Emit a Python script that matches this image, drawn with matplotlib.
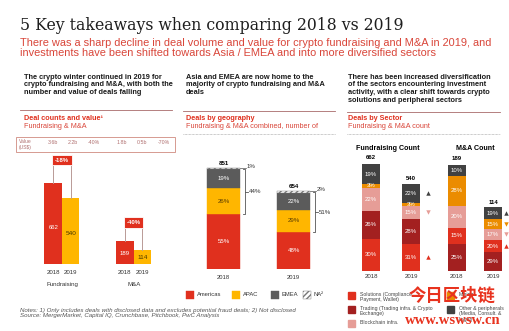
import matplotlib.pyplot as plt
from matplotlib.patches import Rectangle

plt.rcParams['font.family'] = ['Liberation Sans', 'DejaVu Sans']

# ---------------------------------------------------------------------------
# Data
# ---------------------------------------------------------------------------
years = ["2018", "2019"]

fundraising_counts = [662, 540]
ma_counts = [189, 114]
count_changes = ["-18%", "-40%"]
value_labels = ["3.6b", "2.2b", "-40%", "1.8b", "0.5b", "-70%"]

geo_totals = [851, 654]
geo_regions = ["Americas", "APAC", "EMEA", "NA²"]
geo_americas = [55, 48]
geo_apac = [26, 29]
geo_emea = [19, 22]
geo_na = [1, 2]
geo_na_labels = ["1%", "2%"]
geo_bracket_labels = ["44%", "51%"]

sectors = ["Solutions", "Trading", "Blockchain infra.", "Mining", "Other"]
sector_legend = ["Solutions (Compliance,\nPayment, Wallet)",
                 "Trading (Trading infra. & Crypto\nExchange)",
                 "Blockchain infra.",
                 "Mining",
                 "Other & peripherals\n(Media, Consult. &\nLegal)"]
fr_sector_2018 = [30, 26, 22, 3, 19]
fr_sector_2019 = [31, 28, 15, 3, 22]
ma_sector_2018 = [15, 25, 20, 28, 10]
ma_sector_2019 = [20, 29, 17, 15, 19]
# stacking order bottom -> top (index into sectors)
fr_order = [0, 1, 2, 3, 4]
ma_order = [1, 0, 2, 3, 4]
# trend arrows shown next to the 2019 bars
fr_trend_2019 = {4: "^", 2: "v", 0: "^"}
ma_trend_2019 = {4: "^", 3: "v", 2: "v", 0: "^"}

RED = "#e0301e"
DARKRED = "#a32020"
PINK = "#e69d97"
ORANGE = "#eb8c00"
YELLOW = "#ffb600"
GREY = "#5b5b5b"
DARKGREY = "#414141"
TXTRED = "#d9463a"
sector_colors = [RED, DARKRED, PINK, ORANGE, DARKGREY]
geo_colors = [RED, YELLOW, GREY, "white"]

W, H = 510, 331
fig = plt.figure(figsize=(W / 100, H / 100), dpi=100)

lay = fig.add_axes([0, 0, 1, 1])
lay.set_xlim(0, W)
lay.set_ylim(H, 0)
lay.axis("off")


def px_axes(x0, y0, x1, y1):
    a = fig.add_axes([x0 / W, 1 - y1 / H, (x1 - x0) / W, (y1 - y0) / H])
    a.patch.set_alpha(0)
    a.axis("off")
    return a


# ---------------------------------------------------------------------------
# Title block and column headers
# ---------------------------------------------------------------------------
lay.text(20, 25, "5 Key takeaways when comparing 2018 vs 2019", family="DejaVu Serif",
         fontsize=11.3, color="#1e1e1e", va="center")
lay.text(20, 48, "There was a sharp decline in deal volume and value for crypto fundraising and M&A in 2019, and\n"
         "investments have been shifted towards Asia / EMEA and into more diversified sectors",
         fontsize=7.9, color=TXTRED, va="center", linespacing=1.1)

heads = [(24, "The crypto winter continued in 2019 for\ncrypto fundraising and M&A, with both the\nnumber and value of deals falling"),
         (186, "Asia and EMEA are now home to the\nmajority of crypto fundraising and M&A\ndeals"),
         (348, "There has been increased diversification\nof the sectors encountering investment\nactivity, with a clear shift towards crypto\nsolutions and peripheral sectors")]
for x, t in heads:
    lay.text(x, 74, t, fontsize=5.3, weight="bold", color="#1a1a1a", va="top", linespacing=1.1)

for x0, x1, y in [(20, 172, 110), (183, 335, 111), (347, 500, 112)]:
    lay.plot([x0, x1], [y, y], color="#a86a6a", lw=0.6)
for x0, x1 in [(183, 335), (347, 500)]:
    lay.plot([x0, x1], [134, 134], color="#999999", lw=0.5, ls=(0, (1, 1)))

subs = [(24, "Deal counts and value¹", "Fundraising & M&A"),
        (186, "Deals by geography", "Fundraising & M&A combined, number of"),
        (348, "Deals by Sector", "Fundraising & M&A count")]
for x, t1, t2 in subs:
    lay.text(x, 119, t1, fontsize=5.2, weight="bold", color=RED, va="center")
    lay.text(x, 127, t2, fontsize=5.2, color=TXTRED, va="center")

# value box
lay.add_patch(Rectangle((16, 137), 159, 15, fill=False, ec="#d08a80", lw=0.6))
lay.text(19, 144.5, "Value\n(US$)", fontsize=3.6, color="#b07070", va="center", linespacing=1.1)
for x, t in zip([48, 68, 88, 117, 137, 158], value_labels):
    lay.text(x, 142, t, fontsize=3.8, color="#b07070", va="center")

# ---------------------------------------------------------------------------
# Chart 1: deal counts
# ---------------------------------------------------------------------------
ax1 = px_axes(20, 142, 175, 264)
ax1.set_ylim(0, 1000)
ax1.set_xlim(-1.9, 6.96)
groups = [([0, 1], fundraising_counts, "Fundraising", max(fundraising_counts) + 190),
          ([4.1, 5.1], ma_counts, "M&A", max(ma_counts) + 150)]
for (pos, vals, name, lvl), chg in zip(groups, count_changes):
    ax1.bar(pos, vals, width=1, color=[RED, YELLOW])
    ax1.text(pos[0], vals[0] * 0.45, str(vals[0]), color="white", fontsize=4.3, ha="center", va="center")
    ax1.text(pos[1], vals[1] * 0.47, str(vals[1]), color="#4a3a00", fontsize=4.6, ha="center", va="center")
    ax1.plot([pos[0], pos[0], pos[1], pos[1]], [vals[0], lvl, lvl, vals[1]], color="#b99a96", lw=0.7)
    ax1.text(sum(pos) / 2, lvl, chg, color="white", fontsize=4.3, weight="bold", ha="center", va="center",
             bbox=dict(boxstyle="square,pad=0.45", fc=RED, ec="white", lw=0.6))
    for p, y in zip(pos, years):
        ax1.text(p, -66, y, fontsize=4.4, color="#333333", ha="center", va="center")
    ax1.text(sum(pos) / 2, -172, name, fontsize=4.4, color="#333333", ha="center", va="center")

# ---------------------------------------------------------------------------
# Chart 2: deals by geography
# ---------------------------------------------------------------------------
ax2 = px_axes(180, 151.5, 340, 269)
ax2.set_ylim(0, 1000)
ax2.set_xlim(-0.62, 1.66)
bw = 0.47
bottoms = [0, 0]
shares = [geo_americas, geo_apac, geo_emea, geo_na]
txt_cols = ["white", "#5a3d00", "white", None]
for share, col, tc in zip(shares, geo_colors, txt_cols):
    h = [t * s / 100 for t, s in zip(geo_totals, share)]
    ax2.bar([0, 1], h, bottom=bottoms, width=bw, color=col,
            hatch="//////" if col == "white" else None,
            edgecolor="#777777" if col == "white" else col, lw=0.3)
    if tc:
        for i in range(2):
            ax2.text(i, bottoms[i] + h[i] / 2, f"{share[i]}%", color=tc, fontsize=4.4,
                     ha="center", va="center")
    bottoms = [b + v for b, v in zip(bottoms, h)]
for i in range(2):
    top = geo_totals[i]
    base = top * geo_americas[i] / 100
    ax2.text(i, top + 25, str(top), fontsize=4.4, weight="bold", ha="center", va="bottom")
    xb = i + bw / 2 + 0.07
    ax2.plot([xb - 0.03, xb, xb, xb - 0.03], [top, top, base, base], color="#555555", lw=0.6, clip_on=False)
    mid = (top + base) / 2
    ax2.plot([xb, xb + 0.04], [mid, mid], color="#555555", lw=0.6, clip_on=False)
    ax2.text(xb + 0.06, mid, geo_bracket_labels[i], fontsize=4.4, color="#333333", va="center")
    ax2.plot([i + bw / 2, i + bw / 2 + 0.08], [top + 10, top + 10], color="#555555", lw=0.5, clip_on=False)
    ax2.text(i + bw / 2 + 0.1, top + 20, geo_na_labels[i], fontsize=4.4, color="#333333", va="center")
    ax2.text(i, -70, years[i], fontsize=4.2, color="#333333", ha="center", va="center")

lx = [186, 232, 271, 303]
for x, name, col in zip(lx, geo_regions, geo_colors):
    lay.add_patch(Rectangle((x, 291), 8, 8, fc=col, ec="#777777" if col == "white" else col,
                            hatch="//////" if col == "white" else None, lw=0.3))
    lay.text(x + 11, 295, name, fontsize=4.2, color="#333333", va="center")

# ---------------------------------------------------------------------------
# Chart 3: deals by sector
# ---------------------------------------------------------------------------
ax3a = px_axes(350, 164, 430, 271)
ax3a.set_ylim(0, max(fundraising_counts))
ax3a.set_xlim(-0.525, 1.475)
ax3b = px_axes(440, 165, 510, 271)
ax3b.set_ylim(0, max(ma_counts))
ax3b.set_xlim(-0.47, 1.47)

panels = [(ax3a, fundraising_counts, [fr_sector_2018, fr_sector_2019], fr_order, fr_trend_2019, 0.45, 0.2),
          (ax3b, ma_counts, [ma_sector_2018, ma_sector_2019], ma_order, ma_trend_2019, 0.5, 0.12)]
for ax, totals, pcts, order, trend, w, toff in panels:
    for i in range(2):
        tot = totals[i]
        p = pcts[i]
        s = sum(p)
        b = 0
        for k in order:
            h = tot * p[k] / s
            ax.bar(i, h, bottom=b, width=w, color=sector_colors[k])
            ax.text(i, b + h / 2, f"{p[k]}%", fontsize=4.3, color="white", ha="center", va="center")
            if i == 1 and k in trend:
                ax.plot(i + w / 2 + toff, b + h / 2, marker=trend[k], ms=3.2, mew=0,
                        color=DARKGREY if k == 4 else sector_colors[k], clip_on=False)
            b += h
        ax.text(i, tot * 1.035, str(tot), fontsize=4.3, weight="bold", ha="center", va="bottom")
        ax.text(i, -ax.get_ylim()[1] * 0.054, years[i], fontsize=4.4, color="#333333", ha="center", va="center")

lay.text(388, 148, "Fundraising Count", fontsize=5.1, weight="bold", ha="center", va="center")
lay.text(475, 148, "M&A Count", fontsize=5.1, weight="bold", ha="center", va="center")

leg_pos = [(348, 292), (348, 306), (348, 320), (447, 292), (447, 306)]
for (x, y), name, col in zip(leg_pos, sector_legend, sector_colors):
    lay.add_patch(Rectangle((x, y), 7, 7, fc=col, ec=col))
    lay.text(x + 12, y, name, fontsize=3.7, color="#444444", va="top", linespacing=1.1)

# ---------------------------------------------------------------------------
# Notes and watermark
# ---------------------------------------------------------------------------
lay.text(20, 313, "Notes: 1) Only includes deals with disclosed data and excludes potential fraud deals; 2) Not disclosed\n"
         "Source: MergerMarket, Capital IQ, Crunchbase, Pitchbook, PwC Analysis",
         fontsize=4.4, style="italic", color="#555555", va="center", linespacing=1.2)

fig.text(452 / W, 1 - 296 / H, "今日区块链", family=["Noto Sans CJK SC", "DejaVu Sans"],
         fontsize=12.5, weight="bold", color="#e8321e", ha="center", va="center")
fig.text(453 / W, 1 - 321 / H, "www.wswsw.cn", family="Liberation Serif",
         fontsize=10.5, weight="bold", color="#e8321e", ha="center", va="center")

fig.savefig("out.png", dpi=100)
